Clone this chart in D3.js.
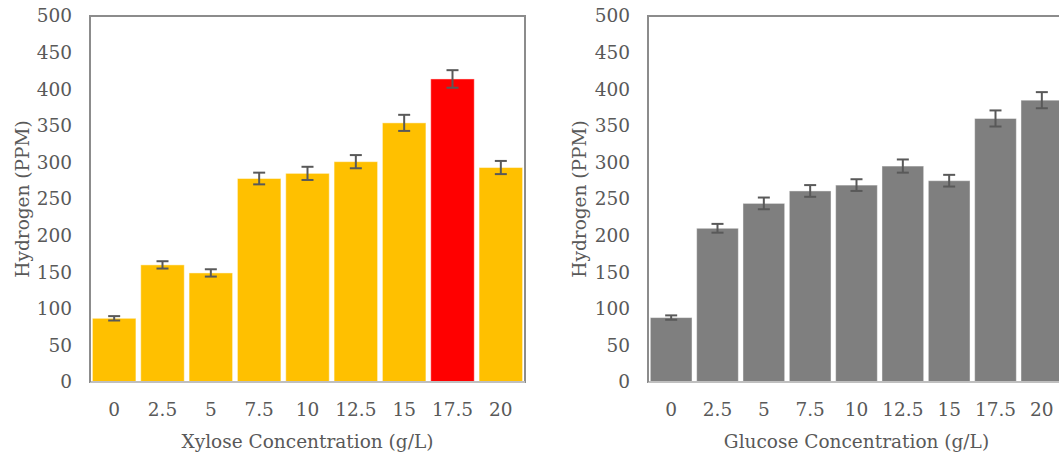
<!DOCTYPE html>
<html>
<head>
<meta charset="utf-8">
<script src="https://cdn.jsdelivr.net/npm/d3@7"></script>
<style>
  html, body { margin: 0; padding: 0; background: #fff; overflow: hidden; }
  svg { display: block; }
</style>
</head>
<body>
<svg id="chart" width="1059" height="455"></svg>
<script>
// ---- Data ----
const concentrations = ["0", "2.5", "5", "7.5", "10", "12.5", "15", "17.5", "20"];
const xyloseValues = [87, 160, 149, 278, 285, 301, 354, 414, 293];
const xyloseErrors = [3, 5, 5, 8, 9, 9, 11, 12, 9];
const xyloseColors = ["#FFC000", "#FFC000", "#FFC000", "#FFC000", "#FFC000", "#FFC000", "#FFC000", "#FF0000", "#FFC000"];
const glucoseValues = [88, 210, 244, 261, 269, 295, 275, 360, 385];
const glucoseErrors = [3, 6, 8, 8, 8, 9, 8, 11, 11];
const glucoseColors = ["#7F7F7F", "#7F7F7F", "#7F7F7F", "#7F7F7F", "#7F7F7F", "#7F7F7F", "#7F7F7F", "#7F7F7F", "#7F7F7F"];
const yTicks = [0, 50, 100, 150, 200, 250, 300, 350, 400, 450, 500];
const yTitle = "Hydrogen (PPM)";
const xyloseTitle = "Xylose Concentration (g/L)";
const glucoseTitle = "Glucose Concentration (g/L)";

const FONT = "DejaVu Serif";
const FS = 18.5;
const svg = d3.select("#chart");

function drawPanel(opts) {
  const { left, right, top, bottom, values, errors, colors, xTitle, yTitleX } = opts;
  const g = svg.append("g");
  const x = d3.scaleBand().domain(concentrations).range([left, right])
    .paddingInner(0.1).paddingOuter(0.05);
  const y = d3.scaleLinear().domain([0, 500]).range([bottom, top]);

  g.append("rect").attr("x", left).attr("y", top)
    .attr("width", right - left).attr("height", bottom - top)
    .attr("fill", "none").attr("stroke", "#8c8c8c").attr("stroke-width", 2);

  g.selectAll("rect.bar").data(values).join("rect")
    .attr("class", "bar")
    .attr("x", (d, i) => x(concentrations[i]))
    .attr("y", d => y(d))
    .attr("width", x.bandwidth())
    .attr("height", d => y(0) - y(d))
    .attr("fill", (d, i) => colors[i])
    .attr("stroke", "#ffffff").attr("stroke-opacity", 0.45).attr("stroke-width", 1);

  g.append("line").attr("x1", left).attr("x2", right)
    .attr("y1", y(0)).attr("y2", y(0))
    .attr("stroke", "#bfbfbf").attr("stroke-width", 2);
  g.append("line").attr("x1", left).attr("x2", left)
    .attr("y1", top).attr("y2", bottom)
    .attr("stroke", "#8c8c8c").attr("stroke-width", 2);

  const eb = g.selectAll("g.err").data(values).join("g").attr("class", "err")
    .attr("stroke", "#595959").attr("stroke-width", 2);
  const cx = i => x(concentrations[i]) + x.bandwidth() / 2;
  eb.append("line").attr("x1", (d, i) => cx(i)).attr("x2", (d, i) => cx(i))
    .attr("y1", (d, i) => y(d + errors[i])).attr("y2", (d, i) => y(d - errors[i]));
  eb.append("line").attr("x1", (d, i) => cx(i) - 6).attr("x2", (d, i) => cx(i) + 6)
    .attr("y1", (d, i) => y(d + errors[i])).attr("y2", (d, i) => y(d + errors[i]));
  eb.append("line").attr("x1", (d, i) => cx(i) - 6).attr("x2", (d, i) => cx(i) + 6)
    .attr("y1", (d, i) => y(d - errors[i])).attr("y2", (d, i) => y(d - errors[i]));

  const ya = g.append("g").attr("transform", `translate(${left},0)`)
    .call(d3.axisLeft(y).tickValues(yTicks).tickSize(0).tickPadding(18));
  ya.attr("font-family", FONT).attr("font-size", FS);
  ya.select(".domain").remove();
  ya.selectAll("text").attr("fill", "#595959");

  const xa = g.append("g").attr("transform", `translate(0,${bottom})`)
    .call(d3.axisBottom(x).tickSize(0).tickPadding(21));
  xa.attr("font-family", FONT).attr("font-size", FS);
  xa.select(".domain").remove();
  xa.selectAll("text").attr("fill", "#595959");

  g.append("text").attr("x", (left + right) / 2).attr("y", 448)
    .attr("text-anchor", "middle").attr("font-size", FS).attr("font-family", FONT)
    .attr("fill", "#595959").text(xTitle);
  g.append("text").attr("transform", `translate(${yTitleX},${(top + bottom) / 2}) rotate(-90)`)
    .attr("text-anchor", "middle").attr("font-size", FS).attr("font-family", FONT)
    .attr("fill", "#595959").text(yTitle);
}

drawPanel({ left: 90, right: 525, top: 16, bottom: 382,
  values: xyloseValues, errors: xyloseErrors, colors: xyloseColors,
  xTitle: xyloseTitle, yTitleX: 29 });
drawPanel({ left: 648, right: 1065, top: 16, bottom: 382,
  values: glucoseValues, errors: glucoseErrors, colors: glucoseColors,
  xTitle: glucoseTitle, yTitleX: 586 });
</script>
</body>
</html>
